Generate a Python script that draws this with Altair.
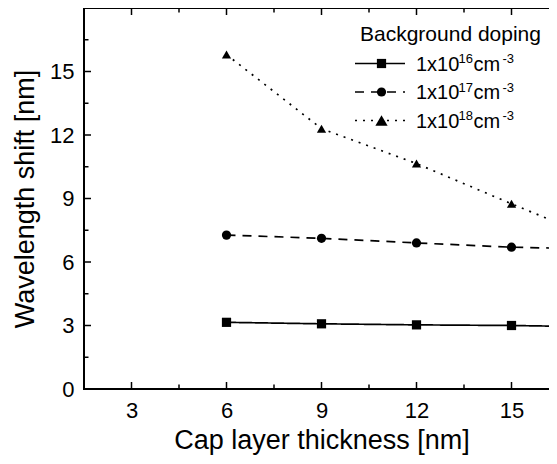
import altair as alt
import pandas as pd

# ---- data ----
thickness = [6, 9, 12, 15, 18]
shift_1e16 = [3.15, 3.08, 3.03, 3.0, 2.93]
shift_1e17 = [7.27, 7.12, 6.9, 6.7, 6.6]
shift_1e18 = [15.8, 12.3, 10.65, 8.75, 6.9]
series_labels = ["1x10^16cm^-3", "1x10^17cm^-3", "1x10^18cm^-3"]
label_base = "1x10"
label_exps = ["16", "17", "18"]
label_unit = "cm"
label_unit_exp = "-3"
legend_title = "Background doping"
x_title = "Cap layer thickness [nm]"
y_title = "Wavelength shift [nm]"
x_major = [3, 6, 9, 12, 15]
x_minor = [4.5, 7.5, 10.5, 13.5]
y_major = [0, 3, 6, 9, 12, 15]
y_minor = [1.5, 4.5, 7.5, 10.5, 13.5, 16.5]
x_domain = [1.5, 16.5]
y_domain = [0, 18]

# ---- styles ----
FONT = "Liberation Sans"
W, H = 475, 381
shapes = ["square", "circle", "triangle-up"]
sizes = [85, 85, 150]
dashes = [[1, 0], [9, 7], [2, 6]]

rows = []
for lab, vals in zip(series_labels, [shift_1e16, shift_1e17, shift_1e18]):
    for t, v in zip(thickness, vals):
        rows.append({"x": t, "y": v, "label": lab})
df = pd.DataFrame(rows)

xscale = alt.Scale(domain=x_domain, nice=False, zero=False)
yscale = alt.Scale(domain=y_domain, nice=False, zero=False)

xaxis = alt.Axis(values=x_major, format="d", grid=False, domain=False, ticks=False,
                 tickSize=0, labelFontSize=22, labelFont=FONT, labelColor="black",
                 labelPadding=11, title=x_title, titleFontSize=27, titleFont=FONT,
                 titleFontWeight="normal", titleColor="black", titlePadding=6)
yaxis = alt.Axis(values=y_major, format="d", grid=False, domain=False, ticks=False,
                 tickSize=0, labelFontSize=22, labelFont=FONT, labelColor="black",
                 labelPadding=10, title=y_title, titleFontSize=27, titleFont=FONT,
                 titleFontWeight="normal", titleColor="black", titlePadding=10)

X = alt.X("x:Q", scale=xscale, axis=xaxis)
Y = alt.Y("y:Q", scale=yscale, axis=yaxis)

lines = alt.Chart(df).mark_line(color="black", strokeWidth=1.7, clip=True).encode(
    x=X, y=Y,
    strokeDash=alt.StrokeDash("label:N", scale=alt.Scale(domain=series_labels, range=dashes), legend=None),
    detail="label:N",
)
points = alt.Chart(df).mark_point(filled=True, color="black", opacity=1, clip=True).encode(
    x=X, y=Y,
    shape=alt.Shape("label:N", scale=alt.Scale(domain=series_labels, range=shapes), legend=None),
    size=alt.Size("label:O", scale=alt.Scale(domain=series_labels, range=sizes), legend=None),
)

layers = [lines, points]

# inward ticks on all four sides
def yticks(vals, length, side):
    d = pd.DataFrame({"y": vals})
    if side == "left":
        xa, xb = 0, length
    else:
        xa, xb = W, W - length
    return alt.Chart(d).mark_rule(color="black", strokeWidth=1.5).encode(
        y=Y, x=alt.value(xa), x2=alt.value(xb))

def xticks(vals, length, side):
    d = pd.DataFrame({"x": vals})
    if side == "bottom":
        ya, yb = H, H - length
    else:
        ya, yb = 0, length
    return alt.Chart(d).mark_rule(color="black", strokeWidth=1.5).encode(
        x=X, y=alt.value(ya), y2=alt.value(yb))

for side in ["left", "right"]:
    layers.append(yticks(y_major, 7, side))
    layers.append(yticks(y_minor, 4.5, side))
for side in ["bottom", "top"]:
    layers.append(xticks(x_major, 7, side))
    layers.append(xticks(x_minor, 4.5, side))

# legend (drawn inside the plot, top right)
LX0, LX1, LM, LT = 271, 321, 297.5, 332
LY0, LDY = 55.5, 28.5
BIG, SMALL = 20, 13
W_BASE, W_EXP, W_UNIT = 42.5, 15, 29
layers.append(
    alt.Chart(pd.DataFrame({"t": [legend_title]})).mark_text(
        align="left", baseline="alphabetic", fontSize=21, font=FONT, color="black"
    ).encode(x=alt.value(276), y=alt.value(33), text="t:N")
)

def txt(s, x, y, size):
    return alt.Chart(pd.DataFrame({"t": [s]})).mark_text(
        align="left", baseline="alphabetic", fontSize=size, font=FONT, color="black"
    ).encode(x=alt.value(x), y=alt.value(y), text="t:N")

for i, lab in enumerate(series_labels):
    d = pd.DataFrame({"label": [lab]})
    yy = LY0 + i * LDY
    layers.append(alt.Chart(d).mark_rule(color="black", strokeWidth=1.7, strokeDash=dashes[i]).encode(
        x=alt.value(LX0), x2=alt.value(LX1), y=alt.value(yy)))
    layers.append(alt.Chart(d).mark_point(filled=True, color="black", opacity=1,
                                          shape=shapes[i], size=sizes[i]).encode(
        x=alt.value(LM), y=alt.value(yy)))
    base_y = yy + 7
    sup_y = yy - 0.5
    layers.append(txt(label_base, LT, base_y, BIG))
    layers.append(txt(label_exps[i], LT + W_BASE, sup_y, SMALL))
    layers.append(txt(label_unit, LT + W_BASE + W_EXP, base_y, BIG))
    layers.append(txt(label_unit_exp, LT + W_BASE + W_EXP + W_UNIT, sup_y, SMALL))

chart = alt.layer(*layers).properties(
    width=W, height=H,
    autosize=alt.AutoSizeParams(type="none"),
    padding={"left": 76, "top": 0, "right": -10, "bottom": 67},
).configure_view(stroke="black", strokeWidth=2)

chart.save("out.html", embed_options={"renderer": "svg", "actions": False})
